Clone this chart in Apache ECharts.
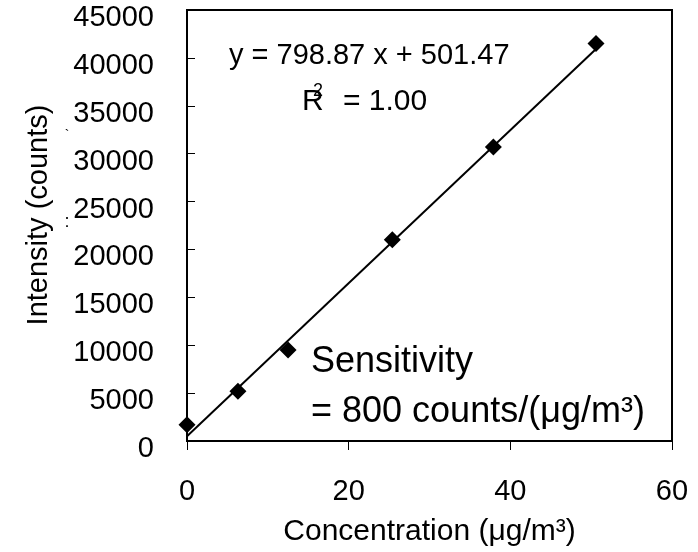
<!DOCTYPE html>
<html>
<head>
<meta charset="utf-8">
<script src="https://cdn.jsdelivr.net/npm/echarts@6/dist/echarts.min.js"></script>
<style>
html,body{margin:0;padding:0;background:#fff;}
#chart{width:698px;height:552px;}
</style>
</head>
<body>
<div id="chart"></div>
<script>
// Data
var concentration = [0, 6.3, 12.5, 25.4, 37.9, 50.6];
var intensity = [1700, 5200, 9500, 21000, 30700, 41500];
var slope = 798.87;
var intercept = 501.47;
var xTicks = [0, 20, 40, 60];
var yTicks = [0, 5000, 10000, 15000, 20000, 25000, 30000, 35000, 40000, 45000];

var FONT = '"Liberation Sans", Arial, sans-serif';
var points = concentration.map(function (x, i) { return [x, intensity[i]]; });
var xFirst = concentration[0], xLast = concentration[concentration.length - 1];
var fitLine = [[xFirst, slope * xFirst + intercept], [xLast, slope * xLast + intercept]];

var chart = echarts.init(document.getElementById('chart'));
chart.setOption({
  animation: false,
  backgroundColor: '#fff',
  grid: { left: 187, right: 26, top: 10, bottom: 108, show: true, borderColor: '#000', borderWidth: 2, backgroundColor: 'transparent' },
  xAxis: {
    type: 'value', min: xTicks[0], max: xTicks[xTicks.length - 1], interval: 20,
    axisLine: { show: true, lineStyle: { color: '#000', width: 2 } },
    axisTick: { show: true, inside: false, length: 9, lineStyle: { color: '#000', width: 1 } },
    axisLabel: { color: '#000', fontFamily: FONT, fontSize: 29, margin: 36, formatter: function (v) { return String(v); } },
    splitLine: { show: false },
    name: 'Concentration (\u03BCg/m\u00B3)', nameLocation: 'middle', nameGap: 76,
    nameTextStyle: { color: '#000', fontFamily: FONT, fontSize: 30 }
  },
  yAxis: {
    type: 'value', min: yTicks[0], max: yTicks[yTicks.length - 1], interval: 5000,
    axisLine: { show: true, lineStyle: { color: '#000', width: 2 } },
    axisTick: { show: true, inside: true, length: 8, lineStyle: { color: '#000', width: 1 } },
    axisLabel: { color: '#000', fontFamily: FONT, fontSize: 29, margin: 33, verticalAlign: 'top', lineHeight: 16, formatter: function (v) { return String(v); } },
    splitLine: { show: false }
  },
  series: [
    { type: 'line', data: fitLine, symbol: 'none', lineStyle: { color: '#000', width: 2 }, z: 2 },
    { type: 'scatter', data: points, symbol: 'diamond', symbolSize: 17, itemStyle: { color: '#000', opacity: 1 }, z: 3 }
  ],
  graphic: [
    { type: 'text', x: 39, y: 215, rotation: Math.PI / 2, style: { text: 'Intensity (counts)', fill: '#000', font: '29px ' + FONT, textAlign: 'center', textVerticalAlign: 'middle' } },
    { type: 'text', x: 67, y: 136, style: { text: '`', fill: '#000', font: '14px ' + FONT, textAlign: 'center', textVerticalAlign: 'middle' } },
    { type: 'text', x: 67, y: 222, style: { text: ':', fill: '#000', font: '18px ' + FONT, textAlign: 'center', textVerticalAlign: 'middle' } },
    { type: 'text', x: 229, y: 56, style: { text: 'y = 798.87 x + 501.47', fill: '#000', font: '29px ' + FONT, textAlign: 'left', textVerticalAlign: 'middle' } },
    { type: 'text', x: 302, y: 102, style: { text: 'R', fill: '#000', font: '30px ' + FONT, textAlign: 'left', textVerticalAlign: 'middle' } },
    { type: 'text', x: 313, y: 91, style: { text: '2', fill: '#000', font: '18px ' + FONT, textAlign: 'left', textVerticalAlign: 'middle' } },
    { type: 'text', x: 343, y: 102, style: { text: '= 1.00', fill: '#000', font: '30px ' + FONT, textAlign: 'left', textVerticalAlign: 'middle' } },
    { type: 'text', x: 311, y: 362, style: { text: 'Sensitivity', fill: '#000', font: '36px ' + FONT, textAlign: 'left', textVerticalAlign: 'middle' } },
    { type: 'text', x: 311, y: 412, style: { text: '= 800 counts/(\u03BCg/m\u00B3)', fill: '#000', font: '36px ' + FONT, textAlign: 'left', textVerticalAlign: 'middle' } }
  ]
});
</script>
</body>
</html>
